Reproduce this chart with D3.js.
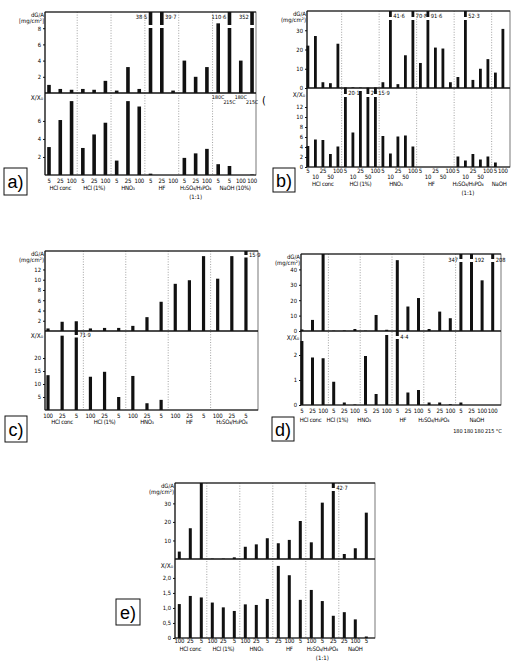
<!DOCTYPE html>
<html lang="en">
<head>
<meta charset="UTF-8">
<title>Weight loss and X/X0 ratio</title>
<script src="https://d3js.org/d3.v7.min.js"></script>
<style>
  body { margin: 0; background: #fff; }
  text { font-family: "DejaVu Sans Condensed", "Liberation Sans Narrow", sans-serif; fill: #000; }
</style>
</head>
<body>
<div id="chart"></div>
<script>
// ---- data: dG/A (mg/cm2) on top, X/X0 below, one value per bar ----
// panel a
const aGroups = ["HCl conc", "HCl (1%)", "HNO₃", "HF", "H₂SO₄/H₃PO₄", "NaOH (10%)"];
const aSizes = [3, 3, 3, 3, 3, 4];
const aTicks = ["5","25","100","5","25","100","5","25","100","5","25","100","5","25","100","5","5","100","100"];
const aLoss = [1.0,0.5,0.4, 0.5,0.4,1.5, 0.3,3.2,0.5, 38.5,39.7,0.3, 4.0,2.0,3.2, 8.6,110.6,4.0,352];
const aRatio = [3.1,6.1,8.2, 3.0,4.5,5.8, 1.6,8.2,7.6, 0.15,0,0, 1.9,2.4,2.9, 1.2,1.0,0,0.05];
const aTemps = ["180C","215C","180C","215C"];
const aLossTicks = [2,4,6,8];
const aRatioTicks = [2,4,6];

// panel b
const bGroups = ["HCl conc", "HCl (1%)", "HNO₃", "HF", "H₂SO₄/H₃PO₄", "NaOH"];
const bSizes = [5, 5, 5, 5, 5, 2];
const bTicks = ["5","10","25","50","100","5","10","25","50","100","5","10","25","50","100",
                "5","10","25","50","100","5","10","25","50","100","5","100"];
const bLoss = [22,27,3,2.5,23, 0.3,0.3,0.2,0.2,0.3, 3,41.6,2,17,70.8, 13,91.6,21,20.5,3, 5.7,52.3,4.2,10,15, 8,30.7];
const bRatio = [4.2,5.5,5.4,2.6,4.1, 20.1,6.9,15.2,28,15.9, 6.2,2.7,6.1,6.3,4.1, 0,0,0,0,0, 2.1,1.3,2.6,1.5,2.1, 0.9,0];
const bLossTicks = [0,10,20,30];
const bRatioTicks = [0,2,4,6,8,10,12];

// panel c
const cGroups = ["HCl conc", "HCl (1%)", "HNO₃", "HF", "H₂SO₄/H₃PO₄"];
const cSizes = [3, 3, 3, 3, 3];
const cTicks = ["100","25","5","100","25","5","100","25","5","100","25","5","100","25","5"];
const cLoss = [0.5,1.8,1.9, 0.5,0.6,0.6, 1.0,2.7,5.7, 9.2,9.9,14.6, 10.2,14.6,15.9];
const cRatio = [13.4,28.6,71.9, 12.8,14.7,5.0, 13.1,2.6,3.9, 0,0,0, 0,0,0];
const cLossTicks = [2,4,6,8,10,12];
const cRatioTicks = [5,10,15,20];

// panel d
const dGroups = ["HCl conc", "HCl (1%)", "HNO₃", "HF", "H₂SO₄/H₃PO₄", "NaOH"];
const dSizes = [3, 3, 3, 3, 3, 4];
const dTicks = ["5","25","100","5","25","100","5","25","100","5","25","100","5","25","100","5","25","100","100"];
const dLoss = [1.0,7.2,50, 0.2,0.3,1.3, 0.2,10.4,0.8, 46,15.9,21.4, 1.3,12.6,8.3, 347,192,32.9,208];
const dRatio = [2.56,1.9,1.87, 0.93,0.1,0.02, 1.96,0.44,2.8, 4.4,0.5,0.6, 0.1,0.1,0.03, 0.1,0,0,0];
const dTemps = ["180","180","180","215"];
const dLossTicks = [0,10,20,30,40];
const dRatioTicks = [0,1,2];

// panel e
const eGroups = ["HCl conc", "HCl (1%)", "HNO₃", "HF", "H₂SO₄/H₃PO₄", "NaOH"];
const eSizes = [3, 3, 3, 3, 3, 3];
const eTicks = ["100","25","5","100","25","5","100","25","5","25","100","5","100","5","25","25","100","5"];
const eLoss = [4,16.6,41, 0.2,0.2,0.9, 6.6,7.9,11.2, 8.5,10.3,20.5, 9,30.4,42.7, 2.7,5.8,25];
const eRatio = [1.13,1.4,1.35, 1.18,1.02,0.9, 1.12,1.1,1.3, 2.4,2.09,1.27, 1.6,1.23,0.74, 0.86,0.62,0.05];
const eLossTicks = [10,20,30];
const eRatioTicks = [0,0.5,1,1.5,2];

const svg = d3.select("#chart").append("svg")
    .attr("width", 518)
    .attr("height", 670);

const FS = 6;
const dot = v => String(v).replace(".", "·");

// draws one half (top or bottom) of a panel
function drawBars(g, vals, x, y, max, baseY, topY, p, sides) {
    const w = p.barW;
    vals.forEach((v, i) => {
        if (v <= 0) return;
        const cx = x(i) + x.bandwidth() / 2;
        const broken = v > max;
        const yt = broken ? topY : y(v);
        g.append("rect")
            .attr("x", cx - w / 2).attr("y", yt)
            .attr("width", w).attr("height", baseY - yt)
            .attr("fill", "#111");
        if (broken) {
            g.append("rect")
                .attr("x", cx - w / 2 - 1).attr("y", topY + p.gapOff)
                .attr("width", w + 2).attr("height", p.gapH)
                .attr("fill", "#fff");
            const left = sides && sides[i] === "l";
            g.append("text")
                .attr("x", left ? cx - w / 2 - 1.5 : cx + w / 2 + 1.5)
                .attr("y", topY + p.labY)
                .attr("text-anchor", left ? "end" : "start")
                .attr("font-size", FS - 0.3)
                .text(dot(v));
        }
    });
}

function panel(p) {
    const g = svg.append("g");
    const n = p.loss.length;
    const x0 = p.first - p.step / 2;
    const x = d3.scaleBand().domain(d3.range(n)).range([x0, x0 + n * p.step]);
    const cx = i => x(i) + x.bandwidth() / 2;
    const yT = d3.scaleLinear().domain([0, p.lossMax]).range([p.mid, p.top]);
    const yB = d3.scaleLinear().domain([0, p.ratioMax]).range([p.bottom, p.mid]);

    // group separators
    let acc = 0;
    const seps = [], starts = [];
    p.sizes.forEach((s, k) => { starts.push(acc); acc += s; if (k < p.sizes.length - 1) seps.push((cx(acc - 1) + cx(acc)) / 2); });
    g.selectAll(".sep").data(seps).join("line")
        .attr("x1", d => d).attr("x2", d => d)
        .attr("y1", p.top).attr("y2", p.bottom)
        .attr("stroke", "#8a8a8a").attr("stroke-width", 0.8)
        .attr("stroke-dasharray", "1,1.6");

    // frame
    g.append("rect")
        .attr("x", p.left).attr("y", p.top)
        .attr("width", p.right - p.left).attr("height", p.bottom - p.top)
        .attr("fill", "none").attr("stroke", "#555").attr("stroke-width", 0.8);
    g.append("line").attr("x1", p.left).attr("x2", p.right).attr("y1", p.top).attr("y2", p.top)
        .attr("stroke", "#111").attr("stroke-width", 1.2);
    g.append("line").attr("x1", p.left).attr("x2", p.right).attr("y1", p.mid).attr("y2", p.mid)
        .attr("stroke", "#111").attr("stroke-width", 1.3);
    g.append("line").attr("x1", p.left).attr("x2", p.right).attr("y1", p.bottom).attr("y2", p.bottom)
        .attr("stroke", "#111").attr("stroke-width", 1.1);
    g.append("line").attr("x1", p.left).attr("x2", p.left).attr("y1", p.top).attr("y2", p.bottom)
        .attr("stroke", "#111").attr("stroke-width", 1.1);

    drawBars(g, p.loss, x, yT, p.lossMax, p.mid, p.top, p, p.lossSides);
    drawBars(g, p.ratio, x, yB, p.ratioMax, p.bottom, p.mid, p, p.ratioSides);

    // y axes
    const axT = g.append("g").attr("transform", `translate(${p.left},0)`)
        .call(d3.axisLeft(yT).tickValues(p.lossTicks).tickSize(2).tickPadding(2));
    const axB = g.append("g").attr("transform", `translate(${p.left},0)`)
        .call(d3.axisLeft(yB).tickValues(p.ratioTicks).tickSize(2).tickPadding(2)
            .tickFormat(p.ratioFmt || (d => d)));
    [axT, axB].forEach(a => {
        a.select(".domain").remove();
        a.selectAll("line").attr("stroke", "#111");
        a.selectAll("text").attr("font-size", 5.8).attr("font-family", null).attr("fill", "#000");
    });

    g.append("text").attr("x", p.left - 1).attr("y", p.top + 4.5)
        .attr("text-anchor", "end").attr("font-size", FS).text("dG/A");
    g.append("text").attr("x", p.left - 1).attr("y", p.top + 11)
        .attr("text-anchor", "end").attr("font-size", FS).text(p.unit);
    g.append("text").attr("x", p.left - 2).attr("y", p.mid + (p.ratioTicks.includes(0) || p.lossTicks.includes(0) ? 9 : 7))
        .attr("text-anchor", "end").attr("font-size", 6.5).text("X/X₀");

    // bottom tick labels
    const axX = g.append("g").attr("transform", `translate(0,${p.bottom})`)
        .call(d3.axisBottom(x).tickSize(0).tickPadding(p.tickPad).tickFormat(i => p.ticks[i]));
    axX.select(".domain").remove();
    axX.selectAll("text").attr("font-size", FS).attr("font-family", null)
        .attr("fill", "#000").attr("letter-spacing", -0.2);
    if (p.stagger) {
        axX.selectAll(".tick").each(function (i) {
            let k = i, s = 0;
            while (k >= p.sizes[s]) { k -= p.sizes[s]; s++; }
            if (p.sizes[s] > 2 && k % 2 === 1) d3.select(this).select("text").attr("dy", "1.7em");
        });
    }

    // group names
    p.groups.forEach((name, k) => {
        const a = starts[k], b = a + p.sizes[k] - 1;
        const gx = (cx(a) + cx(b)) / 2 + (p.groupShift ? p.groupShift[k] : 0);
        g.append("text").attr("x", gx).attr("y", p.groupY)
            .attr("text-anchor", "middle").attr("font-size", FS)
            .attr("letter-spacing", -0.25).text(name);
        if (name.startsWith("H₂SO₄") && p.ratioNote)
            g.append("text").attr("x", gx).attr("y", p.groupY + 8.5)
                .attr("text-anchor", "middle").attr("font-size", FS).text("(1:1)");
    });

    // letter box
    g.append("rect").attr("x", p.box[0]).attr("y", p.box[1])
        .attr("width", p.box[2]).attr("height", p.box[3])
        .attr("fill", "#fff").attr("stroke", "#111").attr("stroke-width", 1);
    g.append("text").attr("x", p.box[0] + p.box[2] / 2).attr("y", p.box[1] + p.box[3] / 2 + 6.5)
        .attr("text-anchor", "middle").attr("font-size", 18)
        .style("font-family", "'Liberation Sans', Arial, sans-serif").text(p.letter);

    return { g, x, cx };
}

// a
const pa = panel({
    left: 45, right: 256, top: 12, mid: 93, bottom: 175,
    first: 49, step: 11.28, barW: 3.6,
    loss: aLoss, ratio: aRatio, ticks: aTicks, sizes: aSizes, groups: aGroups,
    lossMax: 10, ratioMax: 9.1, lossTicks: aLossTicks, ratioTicks: aRatioTicks,
    gapOff: 13, gapH: 3, labY: 7, lossSides: { 9: "l", 16: "l", 18: "l" },
    unit: "[mg/cm²]", tickPad: 4, groupY: 190, ratioNote: true,
    letter: "a)", box: [4, 168, 23, 27]
});
aTemps.forEach((t, k) => {
    pa.g.append("text").attr("x", pa.cx(15 + k)).attr("y", k % 2 ? 104 : 99)
        .attr("text-anchor", "middle").attr("font-size", 5.2).text(t);
});
svg.append("text").attr("x", 262).attr("y", 104).attr("font-size", 11).text("(");

// b
panel({
    left: 307, right: 510, top: 11, mid: 88, bottom: 167,
    first: 307.9, step: 7.5, barW: 2.8,
    loss: bLoss, ratio: bRatio, ticks: bTicks, sizes: bSizes, groups: bGroups,
    lossMax: 40, ratioMax: 15.8, lossTicks: bLossTicks, ratioTicks: bRatioTicks,
    gapOff: 6, gapH: 3, labY: 7,
    unit: "(mg/cm²)", tickPad: 2, stagger: true, groupY: 186, ratioNote: true,
    groupShift: [0, 0, -2, -4, -5, 0],
    letter: "b)", box: [273, 168, 22, 24]
});

// c
panel({
    left: 45, right: 258, top: 251, mid: 331, bottom: 410,
    first: 48, step: 14.14, barW: 3.2,
    loss: cLoss, ratio: cRatio, ticks: cTicks, sizes: cSizes, groups: cGroups,
    lossMax: 15.6, ratioMax: 30.4, lossTicks: cLossTicks, ratioTicks: cRatioTicks,
    gapOff: 4, gapH: 2.5, labY: 5.5,
    unit: "(mg/cm²)", tickPad: 4, groupY: 424,
    letter: "c)", box: [5, 416, 22, 26]
});

// d
const pd = panel({
    left: 301, right: 501, top: 254, mid: 331, bottom: 405,
    first: 301.9, step: 10.6, barW: 3,
    loss: dLoss, ratio: dRatio, ticks: dTicks, sizes: dSizes, groups: dGroups,
    lossMax: 50, ratioMax: 2.96, lossTicks: dLossTicks, ratioTicks: dRatioTicks,
    gapOff: 5, gapH: 3, labY: 8, lossSides: { 15: "l" },
    unit: "(mg/cm²)", tickPad: 4, groupY: 422,
    groupShift: [-2, -7, -12, -5, -6, 0],
    letter: "d)", box: [272, 417, 22, 24]
});
dTemps.forEach((t, k) => {
    pd.g.append("text").attr("x", pd.cx(15 + k) - 3).attr("y", 433)
        .attr("text-anchor", "middle").attr("font-size", 5.5).text(t);
});
pd.g.append("text").attr("x", pd.cx(18) + 3).attr("y", 433).attr("font-size", 5.5).text("°C");

// e
panel({
    left: 175, right: 375, top: 483, mid: 559, bottom: 638,
    first: 179.3, step: 11.0, barW: 3,
    loss: eLoss, ratio: eRatio, ticks: eTicks, sizes: eSizes, groups: eGroups,
    ratioFmt: d => d === 0 ? "0" : d3.format(".1f")(d).replace(".", ","),
    lossMax: 41, ratioMax: 2.63, lossTicks: eLossTicks, ratioTicks: eRatioTicks,
    gapOff: 5, gapH: 3, labY: 7,
    unit: "(mg/cm²)", tickPad: 1, groupY: 651, ratioNote: true,
    letter: "e)", box: [116, 599, 24, 26]
});
</script>
</body>
</html>
